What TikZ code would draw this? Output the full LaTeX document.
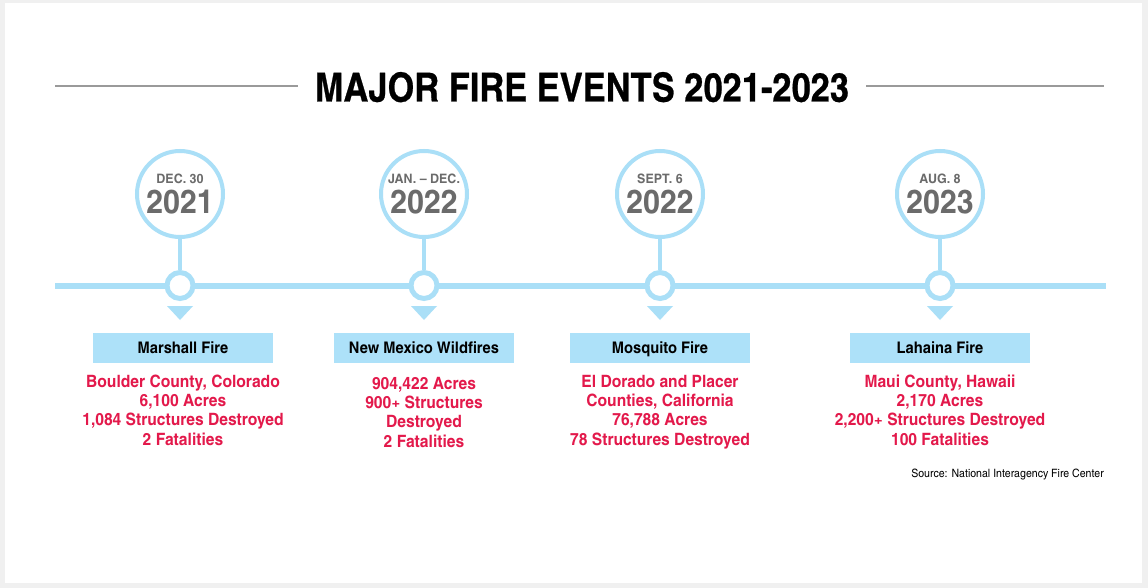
\documentclass[tikz,border=0pt]{standalone}
\usepackage{fontspec}
\setmainfont{TeX Gyre Heros Cn}[FakeStretch=1.12]
\newfontfamily\titlefont{TeX Gyre Heros Cn}[FakeStretch=1.05, FakeBold=0.6]
\newfontfamily\datefont{TeX Gyre Heros Cn}[FakeStretch=1.17]
\definecolor{tlblue}{HTML}{AADFF7}
\definecolor{boxblue}{HTML}{ADE1F9}
\definecolor{firered}{HTML}{E3194B}
\definecolor{dategray}{HTML}{6B6B6B}
\definecolor{rulegray}{HTML}{9A9A9A}
\definecolor{bggray}{HTML}{F0F0F0}
\tikzset{
  bigcirc/.style={circle, draw=tlblue, line width=4pt, fill=white, minimum size=86pt, inner sep=0pt},
  smallcirc/.style={circle, draw=tlblue, line width=5pt, fill=white, minimum size=26pt, inner sep=0pt},
  stem/.style={draw=tlblue, line width=4pt},
  tline/.style={draw=tlblue, line width=6pt},
  titlerule/.style={draw=rulegray, line width=1.6pt},
  datetxt/.style={anchor=base, text=dategray, font=\datefont\fontsize{13}{13}\selectfont\bfseries, inner sep=0pt},
  yeartxt/.style={anchor=base, text=dategray, font=\fontsize{33}{33}\selectfont\bfseries, inner sep=0pt},
  namebox/.style={fill=boxblue, minimum width=180pt, minimum height=30pt, inner sep=0pt, text height=11.5pt, text depth=0pt, font=\fontsize{16}{16}\selectfont\bfseries},
  details/.style={anchor=north, text=firered, align=center, font=\fontsize{17}{19.4}\selectfont\bfseries, inner sep=0pt},
  pointer/.style={fill=tlblue},
}
\begin{document}
\begin{tikzpicture}[x=1pt,y=-1pt]
\useasboundingbox (0,0) rectangle (1148,588);
\fill[bggray] (0,0) rectangle (1148,588);
\fill[white] (5,3) rectangle (1142,583);

% title
\node[anchor=base, font=\titlefont\fontsize{40}{40}\selectfont\bfseries, inner sep=0pt] (title) at (582,101.5) {MAJOR FIRE EVENTS 2021-2023};
\coordinate (rl1) at (55,86);
\coordinate (rl2) at (298,86);
\coordinate (rr1) at (866,86);
\coordinate (rr2) at (1104,86);
\draw[titlerule] (rl1) -- (rl2);
\draw[titlerule] (rr1) -- (rr2);

% timeline
\coordinate (tl) at (55,285.5);
\coordinate (tr) at (1106,285.5);
\draw[tline] (tl) -- (tr);

% event 1
\node[bigcirc] (c1) at (180,194) {};
\node[datetxt] (d1) at (180,184) {DEC. 30};
\node[yeartxt] (y1) at (180,214) {2021};
\node[smallcirc] (s1) at (180,285.5) {};
\draw[stem] (c1.south) -- (s1.north);
\fill[pointer] (167,306) -- (193,306) -- (180,320) -- cycle;
\node[namebox] (b1) at (183,348) {Marshall Fire};
\node[details] (t1) at (183,373.4) {\strut Boulder County, Colorado\\6,100 Acres\\1,084 Structures Destroyed\\2 Fatalities};

% event 2
\node[bigcirc] (c2) at (424,194) {};
\node[datetxt] (d2) at (424,184) {JAN. – DEC.};
\node[yeartxt] (y2) at (424,214) {2022};
\node[smallcirc] (s2) at (424,285.5) {};
\draw[stem] (c2.south) -- (s2.north);
\fill[pointer] (411,306) -- (437,306) -- (424,320) -- cycle;
\node[namebox] (b2) at (424,348) {New Mexico Wildfires};
\node[details] (t2) at (424,375.4) {\strut 904,422 Acres\\900+ Structures\\Destroyed\\2 Fatalities};

% event 3
\node[bigcirc] (c3) at (660,194) {};
\node[datetxt] (d3) at (660,184) {SEPT. 6};
\node[yeartxt] (y3) at (660,214) {2022};
\node[smallcirc] (s3) at (660,285.5) {};
\draw[stem] (c3.south) -- (s3.north);
\fill[pointer] (647,306) -- (673,306) -- (660,320) -- cycle;
\node[namebox] (b3) at (660,348) {Mosquito Fire};
\node[details] (t3) at (660,373.4) {\strut El Dorado and Placer\\Counties, California\\76,788 Acres\\78 Structures Destroyed};

% event 4
\node[bigcirc] (c4) at (940,194) {};
\node[datetxt] (d4) at (940,184) {AUG. 8};
\node[yeartxt] (y4) at (940,214) {2023};
\node[smallcirc] (s4) at (940,285.5) {};
\draw[stem] (c4.south) -- (s4.north);
\fill[pointer] (927,306) -- (953,306) -- (940,320) -- cycle;
\node[namebox] (b4) at (940,348) {Lahaina Fire};
\node[details] (t4) at (940,373.4) {\strut Maui County, Hawaii\\2,170 Acres\\2,200+ Structures Destroyed\\100 Fatalities};

% source
\node[anchor=base east, font=\fontsize{11.5}{11.5}\selectfont, inner sep=0pt] (src) at (1104,477) {Source: National Interagency Fire Center};
\end{tikzpicture}
\end{document}
